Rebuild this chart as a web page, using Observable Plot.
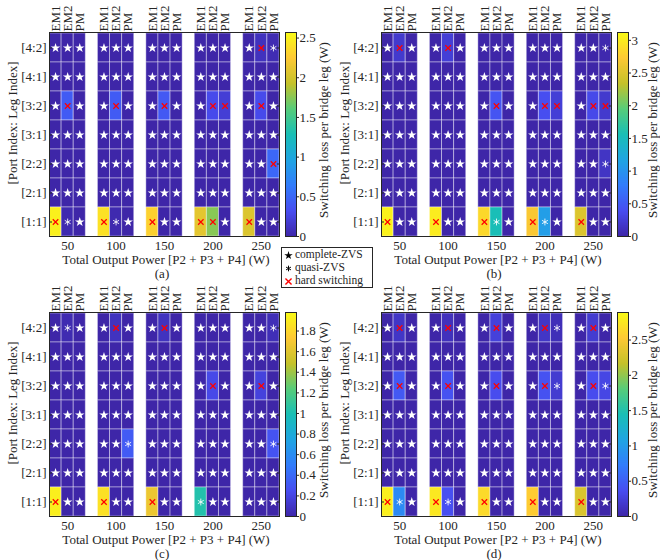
<!DOCTYPE html>
<html>
<head>
<meta charset="utf-8">
<script src="https://cdn.jsdelivr.net/npm/d3@7"></script>
<script src="https://cdn.jsdelivr.net/npm/@observablehq/plot@0.6"></script>
<style>
  body { margin: 0; background: white; }
  #root { position: relative; width: 660px; height: 560px; font-family: "Liberation Serif", "DejaVu Serif", serif; color: #262626; overflow: hidden; }
  .abs { position: absolute; }
  .lbl { position: absolute; font-size: 13px; white-space: nowrap; transform: translate(-50%, -50%); line-height: 1; }
  .rot { transform: translate(-50%, -50%) rotate(-90deg); }
  #legend { position: absolute; left: 281px; top: 247px; width: 90px; height: 39px; border: 1px solid #262626; background: white; font-size: 11.5px; line-height: 13px; }
  #legend div { white-space: nowrap; padding-left: 2px; display: flex; align-items: center; height: 13px; }
  #legend svg { margin-right: 2px; }
</style>
</head>
<body>
<div id="root"></div>
<script>
// ---------- data ----------
const rows = ["[4:2]", "[4:1]", "[3:2]", "[3:1]", "[2:2]", "[2:1]", "[1:1]"];
const powers = [50, 100, 150, 200, 250];
const modes = ["EM1", "EM2", "PM"];
const panels = ["(a)", "(b)", "(c)", "(d)"];
const xTitle = "Total Output Power [P2 + P3 + P4] (W)";
const yTitle = "[Port Index: Leg Index]";
const cbTitle = "Switching loss per bridge leg (W)";

// switching loss per bridge leg (W), rows top->bottom, columns 50..250 x EM1,EM2,PM
const lossA = [
  [0,0,0, 0,0,0, 0,0,0, 0,0,0, 0,0.1,0.05],
  [0,0,0, 0,0,0, 0,0,0, 0,0,0, 0,0,0],
  [0,0.42,0, 0,0.42,0, 0,0.4,0, 0,0.3,0.2, 0,0.3,0],
  [0,0,0, 0,0,0, 0,0,0, 0,0,0, 0,0,0],
  [0,0,0, 0,0,0, 0,0,0, 0,0,0, 0,0,0.5],
  [0,0,0, 0,0,0, 0,0,0, 0,0,0, 0,0,0],
  [2.5,0.03,0, 2.4,0.03,0, 2.3,0,0, 2.1,1.75,0, 2.05,0,0]
];
const zvsA = [
  "sss sss sss sss sxq",
  "sss sss sss sss sss",
  "sxs sxs sxs sxx sxs",
  "sss sss sss sss sss",
  "sss sss sss sss ssx",
  "sss sss sss sss sss",
  "xqs xqs xss xxs xss"
];
const lossB = [
  [0,0.2,0, 0,0.25,0, 0,0,0, 0,0,0, 0,0,0.03],
  [0,0,0, 0,0,0, 0,0,0, 0,0,0, 0,0,0],
  [0,0,0, 0,0,0, 0,0.45,0, 0,0.4,0.25, 0,0.35,0.2],
  [0,0,0, 0,0,0, 0,0,0, 0,0,0, 0,0,0],
  [0,0,0, 0,0,0, 0,0,0, 0,0,0, 0,0,0.15],
  [0,0,0, 0,0,0, 0,0,0, 0,0,0, 0,0,0],
  [3.05,0,0, 3.0,0,0, 2.85,1.55,0, 2.7,1.1,0, 2.5,0,0]
];
const zvsB = [
  "sxs sxs sss sss ssq",
  "sss sss sss sss sss",
  "sss sss sxs sxx sxx",
  "sss sss sss sss sss",
  "sss sss sss sss ssq",
  "sss sss sss sss sss",
  "xss xss xqs xqs xss"
];
const lossC = [
  [0,0.03,0, 0,0.08,0, 0,0.08,0, 0,0,0, 0,0,0.05],
  [0,0,0, 0,0,0, 0,0,0, 0,0,0, 0,0,0],
  [0,0,0, 0,0,0, 0,0,0, 0,0.22,0, 0,0.18,0],
  [0,0,0, 0,0,0, 0,0,0, 0,0,0, 0,0,0],
  [0,0,0, 0,0,0.32,0,0,0, 0,0,0, 0,0,0.28],
  [0,0,0, 0,0,0, 0,0,0, 0,0,0, 0,0,0],
  [1.92,0,0, 1.85,0,0, 1.66,0,0, 1.03,0,0, 0,0,0]
];
const zvsC = [
  "sqs sxs sxs sss ssq",
  "sss sss sss sss sss",
  "sss sss sss sxs sxs",
  "sss sss sss sss sss",
  "sss ssq sss sss ssq",
  "sss sss sss sss sss",
  "xss xss xss qss sss"
];
const lossD = [
  [0,0.15,0, 0,0.1,0, 0,0.25,0, 0,0.15,0.08, 0,0.2,0],
  [0,0,0, 0,0,0, 0,0,0, 0,0,0, 0,0,0],
  [0,0.45,0, 0,0.4,0, 0,0.35,0, 0,0.4,0.2, 0,0.35,0.3],
  [0,0,0, 0,0,0, 0,0,0, 0,0,0, 0,0,0],
  [0,0,0, 0,0,0, 0,0,0, 0,0,0, 0,0,0],
  [0,0,0, 0,0,0, 0,0,0, 0,0,0, 0,0,0],
  [2.8,0.85,0, 2.75,0.38,0, 2.65,0,0, 2.55,0,0, 2.3,0,0]
];
const zvsD = [
  "sxs sxs sxs sxq sxs",
  "sss sss sss sss sss",
  "sxs sxs sxs sxq sxq",
  "sss sss sss sss sss",
  "sss sss sss sss sss",
  "sss sss sss sss sss",
  "xqs xqs xss xss xss"
];
const maxA = 2.57, maxB = 3.12, maxC = 1.98, maxD = 2.89;
const ticksA = [0, 0.5, 1, 1.5, 2, 2.5];
const ticksB = [0, 0.5, 1, 1.5, 2, 2.5, 3];
const ticksC = [0, 0.2, 0.4, 0.6, 0.8, 1, 1.2, 1.4, 1.6, 1.8];
const ticksD = [0, 0.5, 1, 1.5, 2, 2.5];

// parula colormap stops
const parula = ["#3e26a8", "#484df0", "#327cfc", "#20a5e3", "#19bfb6", "#57cc7a", "#c5c22a", "#fec934", "#f9fb15"];
const parulaInterp = d3.piecewise(d3.interpolateRgb, parula);

// ---------- build ----------
function makeData(loss, zvs) {
  const out = [];
  rows.forEach((r, i) => {
    const t = zvs[i].replace(/ /g, "");
    for (let g = 0; g < powers.length; g++)
      for (let m = 0; m < modes.length; m++) {
        const j = g * 3 + m;
        out.push({row: r, col: g * 4 + m, power: powers[g], mode: modes[m], loss: loss[i][j], type: t[j]});
      }
  });
  return out;
}

const root = document.getElementById("root");
const FONT = "Liberation Serif, serif";
const baseStyle = {fontFamily: FONT, fontSize: "13px", color: "#262626", background: "transparent", overflow: "visible"};
const txt = {fontSize: 13, fontFamily: FONT, fill: "#262626"};

function panel(ox, oy, loss, zvs, max, ticks, name, cbTitleX) {
  const data = makeData(loss, zvs);
  const cols = data.filter(d => d.row === rows[0]).map(d => d.col);
  const color = {type: "linear", domain: [0, max], interpolate: t => parulaInterp(t)};
  const main = Plot.plot({
    width: 300, height: 280,
    marginLeft: 49, marginRight: 21, marginTop: 32, marginBottom: 44,
    x: {domain: [-0.5, 18.5]},
    y: {type: "band", domain: rows, padding: 0},
    color,
    style: baseStyle,
    marks: [
      Plot.barX(data, {x1: d => d.col - 0.5, x2: d => d.col + 0.5, y: "row", fill: "loss", stroke: "white", strokeOpacity: 0.4, strokeWidth: 1}),
      Plot.dot(data.filter(d => d.type === "s"), {x: "col", y: "row", symbol: "star", r: 3.0, fill: "white", stroke: "none"}),
      Plot.dot(data.filter(d => d.type === "q"), {x: "col", y: "row", symbol: "asterisk", r: 3.2, stroke: "white", strokeOpacity: 0.85, strokeWidth: 1, fill: "none"}),
      Plot.dot(data.filter(d => d.type === "x"), {x: "col", y: "row", symbol: "times", r: 2.6, stroke: "#ff0000", strokeWidth: 1.2, fill: "none"}),
      Plot.frame({stroke: "#262626", strokeWidth: 1}),
      Plot.axisY({anchor: "left", tickSize: 0, tickPadding: 3, label: null, ...txt}),
      Plot.axisY({anchor: "left", tickSize: 3, dx: 3, text: null, label: null, stroke: "#262626"}),
      Plot.axisY({anchor: "right", tickSize: 3, dx: -3, text: null, label: null, stroke: "#262626"}),
      Plot.axisX({anchor: "bottom", ticks: powers.map((p, g) => g * 4 + 1), tickFormat: c => powers[(c - 1) / 4], tickSize: 0, tickPadding: 4, label: null, ...txt}),
      Plot.axisX({anchor: "top", ticks: cols, tickFormat: c => modes[c % 4], tickRotate: -90, tickSize: 0, tickPadding: 1, label: null, ...txt})
    ]
  });
  main.classList.add("abs");
  main.style.left = ox + "px"; main.style.top = oy + "px";
  root.appendChild(main);

  const cb = Plot.plot({
    width: 50, height: 280,
    marginLeft: 3, marginRight: 36, marginTop: 32, marginBottom: 44,
    x: {domain: [0, 1], axis: null},
    y: {domain: [0, max]},
    color,
    style: baseStyle,
    marks: [
      Plot.raster({fill: (x, y) => y, x1: 0, x2: 1, y1: 0, y2: max, width: 2, height: 256}),
      Plot.frame({stroke: "#262626", strokeWidth: 1}),
      Plot.axisY({anchor: "right", ticks, tickFormat: d => String(d), tickSize: 2, tickPadding: 1, label: null, ...txt})
    ]
  });
  cb.classList.add("abs");
  cb.style.left = (ox + 282) + "px"; cb.style.top = oy + "px";
  root.appendChild(cb);

  const add = (t, x, y, rot) => {
    const d = document.createElement("div");
    d.className = "lbl" + (rot ? " rot" : "");
    d.textContent = t;
    d.style.left = (ox + x) + "px"; d.style.top = (oy + y) + "px";
    root.appendChild(d);
  };
  add(xTitle, 166, 259, false);
  add(name, 162, 273, false);
  add(yTitle, 12, 123, true);
  add(cbTitle, cbTitleX, 130, true);
}

panel(0, 0, lossA, zvsA, maxA, ticksA, panels[0], 323);
panel(332, 0, lossB, zvsB, maxB, ticksB, panels[1], 320);
panel(0, 280, lossC, zvsC, maxC, ticksC, panels[2], 323);
panel(332, 280, lossD, zvsD, maxD, ticksD, panels[3], 320);

// legend
const legendItems = [
  {sym: d3.symbolStar, size: 22, fill: "#000", stroke: "none", sw: 1, text: "complete-ZVS"},
  {sym: d3.symbolAsterisk, size: 22, fill: "none", stroke: "#000", sw: 1, text: "quasi-ZVS"},
  {sym: d3.symbolTimes, size: 26, fill: "none", stroke: "#ff0000", sw: 1.4, text: "hard switching"}
];
const lg = document.createElement("div");
lg.id = "legend";
legendItems.forEach(it => {
  const row = document.createElement("div");
  const s = d3.create("svg").attr("width", 9).attr("height", 10);
  s.append("path").attr("transform", "translate(4.5,5.5)")
    .attr("d", d3.symbol(it.sym, it.size)())
    .attr("fill", it.fill).attr("stroke", it.stroke).attr("stroke-width", it.sw);
  row.appendChild(s.node());
  row.appendChild(document.createTextNode(it.text));
  lg.appendChild(row);
});
root.appendChild(lg);
</script>
</body>
</html>
